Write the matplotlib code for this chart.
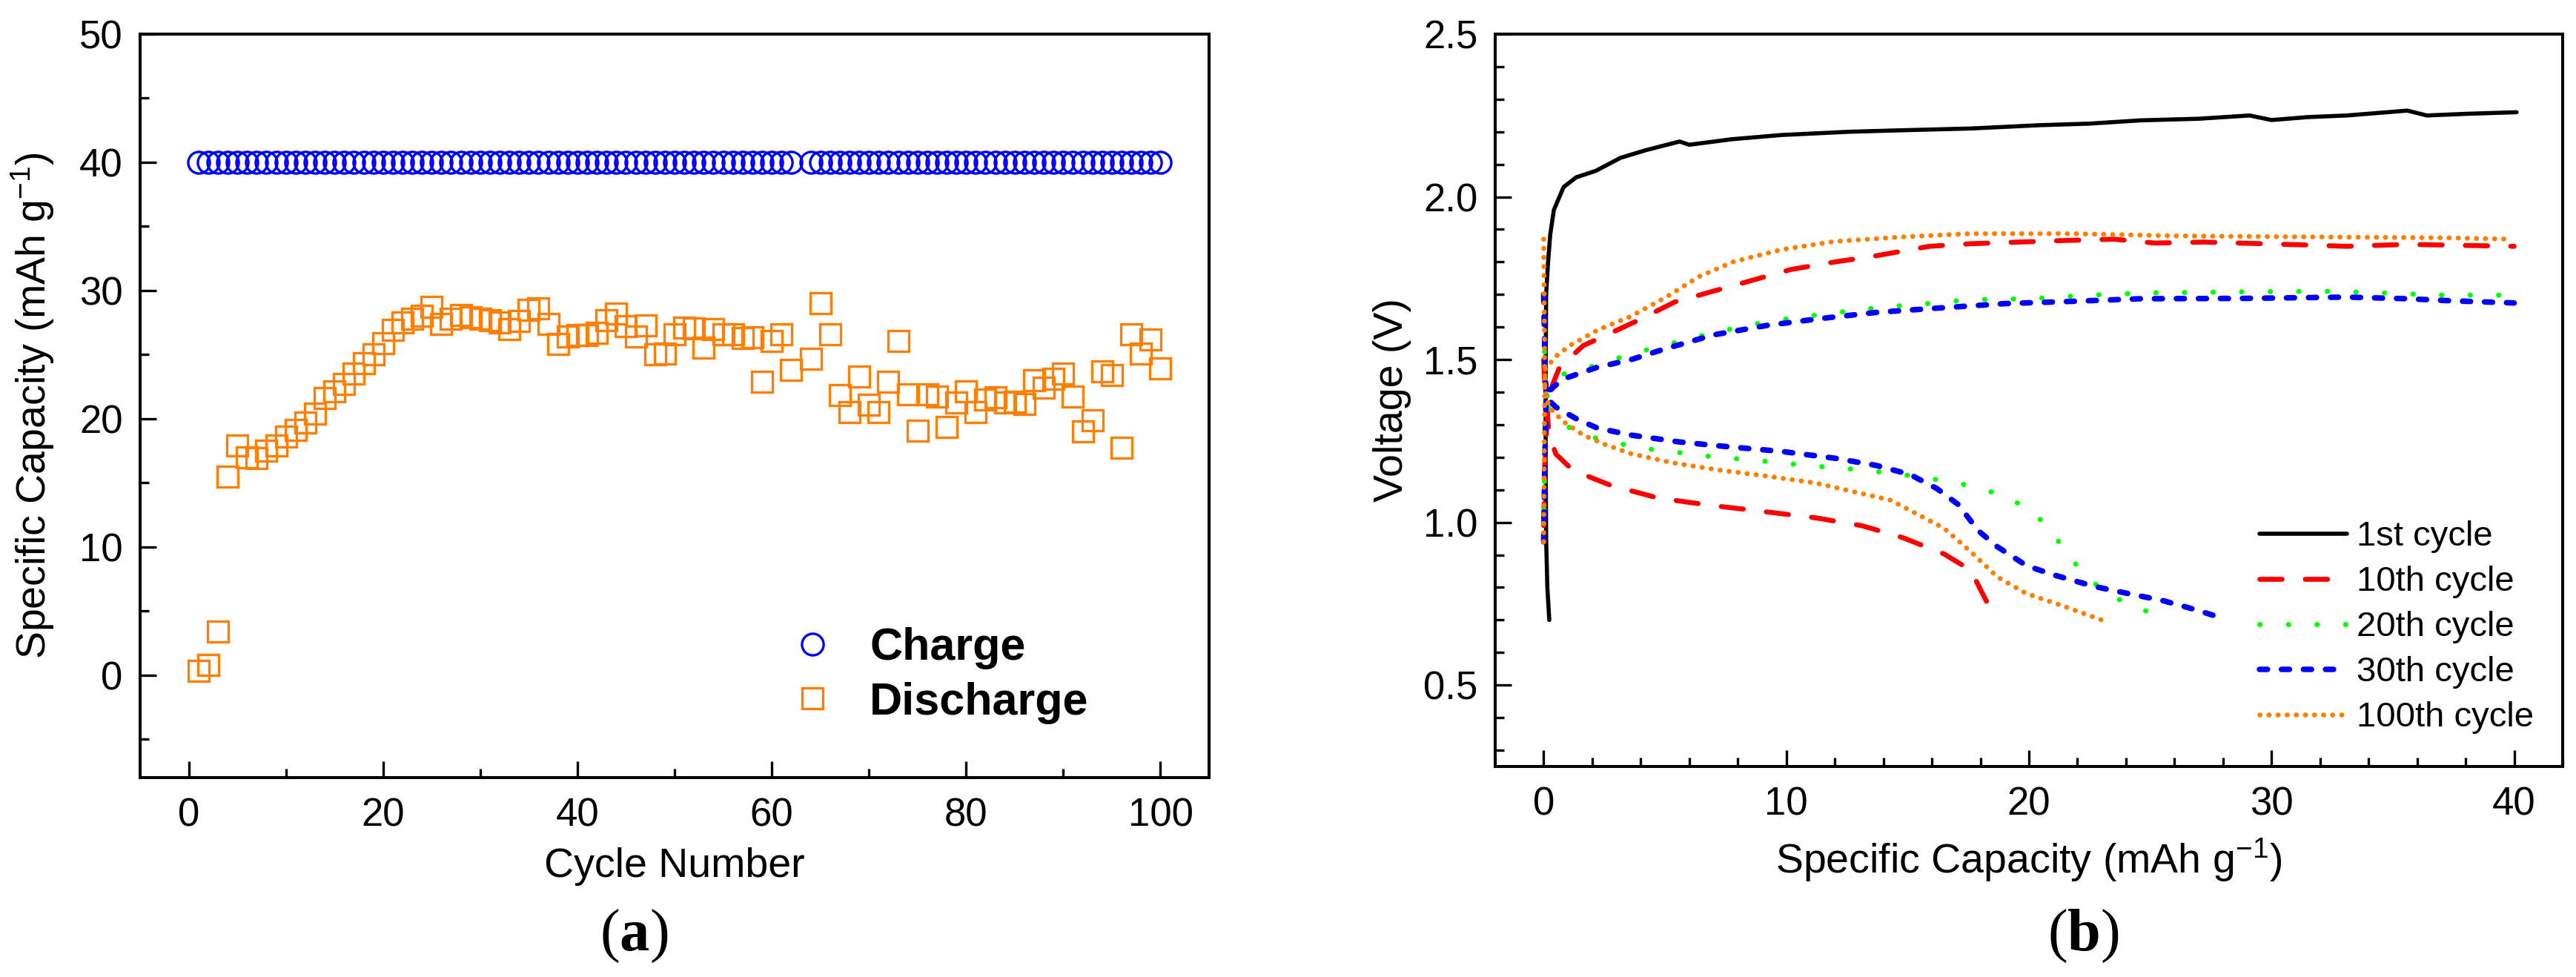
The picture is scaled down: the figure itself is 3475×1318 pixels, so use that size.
import matplotlib
matplotlib.use('Agg')
import matplotlib.pyplot as plt
from matplotlib.ticker import MultipleLocator, FormatStrFormatter

plt.rcParams['font.family'] = 'Liberation Sans'
plt.rcParams['mathtext.fontset'] = 'custom'
plt.rcParams['mathtext.rm'] = 'Liberation Sans'
plt.rcParams['mathtext.it'] = 'Liberation Sans:italic'
plt.rcParams['mathtext.bf'] = 'Liberation Serif:bold'

# ---- panel (a): capacity vs cycle number ----
cycles = [1, 2, 3, 4, 5, 6, 7, 8, 9, 10,
          11, 12, 13, 14, 15, 16, 17, 18, 19, 20,
          21, 22, 23, 24, 25, 26, 27, 28, 29, 30,
          31, 32, 33, 34, 35, 36, 37, 38, 39, 40,
          41, 42, 43, 44, 45, 46, 47, 48, 49, 50,
          51, 52, 53, 54, 55, 56, 57, 58, 59, 60,
          61, 62, 64, 65, 66, 67, 68, 69, 70,
          71, 72, 73, 74, 75, 76, 77, 78, 79, 80,
          81, 82, 83, 84, 85, 86, 87, 88, 89, 90,
          91, 92, 93, 94, 95, 96, 97, 98, 99, 100]

charge_cap = [40.0, 40.0, 40.0, 40.0, 40.0, 40.0, 40.0, 40.0, 40.0, 40.0,
              40.0, 40.0, 40.0, 40.0, 40.0, 40.0, 40.0, 40.0, 40.0, 40.0,
              40.0, 40.0, 40.0, 40.0, 40.0, 40.0, 40.0, 40.0, 40.0, 40.0,
              40.0, 40.0, 40.0, 40.0, 40.0, 40.0, 40.0, 40.0, 40.0, 40.0,
              40.0, 40.0, 40.0, 40.0, 40.0, 40.0, 40.0, 40.0, 40.0, 40.0,
              40.0, 40.0, 40.0, 40.0, 40.0, 40.0, 40.0, 40.0, 40.0, 40.0,
              40.0, 40.0, 40.0, 40.0, 40.0, 40.0, 40.0, 40.0, 40.0,
              40.0, 40.0, 40.0, 40.0, 40.0, 40.0, 40.0, 40.0, 40.0, 40.0,
              40.0, 40.0, 40.0, 40.0, 40.0, 40.0, 40.0, 40.0, 40.0, 40.0,
              40.0, 40.0, 40.0, 40.0, 40.0, 40.0, 40.0, 40.0, 40.0, 40.0]

discharge_cap = [0.3, 0.8, 3.4, 15.5, 17.9, 17.0, 16.9, 17.5, 17.9, 18.6,
                 19.1, 19.7, 20.4, 21.6, 22.1, 22.7, 23.5, 24.3, 25.0, 25.9,
                 26.9, 27.5, 27.8, 28.0, 28.7, 27.4, 27.8, 28.1, 27.9, 27.8,
                 27.7, 27.5, 27.0, 27.6, 28.5, 28.6, 27.4, 25.8, 26.4, 26.5,
                 26.5, 26.7, 27.65, 28.2, 27.2, 26.4, 27.3, 25.0, 25.1, 26.6,
                 27.1, 27.05, 25.55, 27.0, 26.6, 26.6, 26.3, 26.35, 22.9, 26.05,
                 26.6, 23.8, 24.7, 29.0, 26.6, 21.85, 20.5, 23.3, 21.1,
                 20.5, 22.9, 26.05, 21.9, 19.05, 21.9, 21.7, 19.35, 21.25, 22.1,
                 20.5, 21.5, 21.65, 21.25, 21.3, 21.15, 23.0, 22.4, 23.1, 23.5,
                 21.7, 19.0, 19.9, 23.7, 23.4, 17.75, 26.6, 25.1, 26.15, 23.9]

# ---- panel (b): voltage profiles ----
cyc1_cap = [0.23, 0.15, 0.10, 0.08, 0.08, 0.10, 0.18, 0.27, 0.42, 0.82, 1.34, 2.15,
            3.17, 4.19, 5.6, 6.0, 7.75, 9.8, 12.6, 15.0, 17.6, 20.4, 22.5, 24.6,
            27.0, 29.1, 30.0, 31.5, 33.1, 35.6, 36.4, 38.0, 40.1]
cyc1_v = [0.70, 0.80, 0.95, 1.20, 1.45, 1.70, 1.80, 1.885, 1.96, 2.03, 2.06, 2.08,
          2.12, 2.143, 2.17, 2.16, 2.177, 2.19, 2.20, 2.205, 2.21, 2.22, 2.225, 2.235,
          2.24, 2.25, 2.236, 2.245, 2.25, 2.265, 2.25, 2.255, 2.26]

cyc10_dis_cap = [0.0, 0.05, 0.23, 0.5, 1.2, 2.75, 4.7, 6.7, 9.2, 11.2, 13.1, 14.8,
                 16.5, 17.6, 18.3]
cyc10_dis_v = [1.50, 1.40, 1.268, 1.21, 1.16, 1.114, 1.075, 1.054, 1.032, 1.014, 0.99,
               0.953, 0.903, 0.853, 0.75]
cyc10_chg_cap = [0.0, 0.05, 0.15, 0.35, 0.65, 1.63, 3.88, 5.4, 7.8, 10.2, 12.0, 13.55,
                 15.9, 17.6, 21.5, 23.5, 25.2, 27.2, 31.1, 33.1, 35.6, 40.0]
cyc10_chg_v = [0.99, 1.20, 1.33, 1.42, 1.476, 1.543, 1.62, 1.677, 1.727, 1.777, 1.80,
               1.817, 1.848, 1.856, 1.866, 1.87, 1.858, 1.861, 1.853, 1.848, 1.854, 1.848]

cyc20_dis_cap = [0.0, 0.05, 0.22, 1.2, 2.47, 3.6, 4.7, 6.0, 7.1, 8.4, 9.5, 10.8, 12.0,
                 13.1, 14.3, 15.5, 16.7, 17.9, 19.0, 20.0, 20.8, 21.5, 22.2, 23.2, 24.4,
                 25.5, 25.8]
cyc20_dis_v = [1.70, 1.45, 1.34, 1.283, 1.251, 1.235, 1.221, 1.211, 1.20, 1.193, 1.185,
               1.175, 1.168, 1.161, 1.151, 1.14, 1.125, 1.108, 1.079, 1.042, 0.985, 0.913,
               0.846, 0.781, 0.739, 0.71, 0.70]
cyc20_chg_cap = [0.0, 0.05, 0.15, 0.79, 2.19, 3.3, 4.4, 5.7, 7.0, 8.1, 9.2, 10.5, 11.7,
                 12.9, 14.1, 15.4, 16.5, 17.6, 20.1, 22.5, 24.9, 28.6, 32.2, 34.5, 37.0, 40.0]
cyc20_chg_v = [0.95, 1.25, 1.40, 1.455, 1.483, 1.51, 1.533, 1.558, 1.583, 1.60, 1.616,
               1.63, 1.641, 1.652, 1.662, 1.669, 1.677, 1.684, 1.687, 1.698, 1.705, 1.708,
               1.71, 1.705, 1.698, 1.698]

cyc30_dis_cap = [0.0, 0.05, 0.1, 0.5, 1.35, 2.2, 3.6, 5.6, 7.5, 9.8, 12.0, 13.7, 15.1,
                 16.2, 17.1, 17.9, 18.7, 19.9, 21.0, 22.7, 24.1, 25.5, 26.9, 27.9]
cyc30_dis_v = [1.70, 1.50, 1.383, 1.354, 1.318, 1.29, 1.268, 1.247, 1.233, 1.218, 1.197,
               1.175, 1.147, 1.104, 1.054, 0.975, 0.925, 0.867, 0.839, 0.803, 0.781, 0.76,
               0.731, 0.707]
cyc30_chg_cap = [0.0, 0.05, 0.1, 0.79, 2.19, 3.6, 5.0, 7.0, 9.2, 11.4, 13.7, 16.2, 19.0,
                 21.8, 24.6, 28.8, 33.1, 35.6, 37.3, 40.0]
cyc30_chg_v = [0.94, 1.20, 1.397, 1.44, 1.476, 1.50, 1.533, 1.576, 1.605, 1.626, 1.645,
               1.658, 1.672, 1.679, 1.687, 1.688, 1.692, 1.687, 1.681, 1.674]

cyc100_dis_cap = [0.0, 0.03, 0.05, 0.22, 0.8, 1.63, 2.5, 3.6, 5.3, 7.2, 9.2, 11.2, 12.9,
                  14.3, 15.4, 16.5, 17.6, 18.7, 19.9, 21.3, 23.0]
cyc100_dis_v = [1.87, 1.60, 1.41, 1.354, 1.31, 1.268, 1.24, 1.211, 1.183, 1.161, 1.142,
                1.121, 1.092, 1.068, 1.025, 0.982, 0.91, 0.832, 0.781, 0.746, 0.70]
cyc100_chg_cap = [0.0, 0.03, 0.05, 0.5, 1.07, 2.2, 3.6, 5.0, 6.4, 7.8, 9.8, 12.0, 14.8,
                  17.6, 21.8, 26.0, 31.6, 37.3, 39.8]
cyc100_chg_v = [0.94, 1.30, 1.47, 1.51, 1.543, 1.59, 1.633, 1.69, 1.755, 1.80, 1.838,
                1.863, 1.877, 1.887, 1.887, 1.88, 1.877, 1.874, 1.87]

cycle_labels = ['1st cycle', '10th cycle', '20th cycle', '30th cycle', '100th cycle']

# ---- figure ----
fig = plt.figure(figsize=(34.75, 13.18), dpi=100)
ax1 = fig.add_axes([0.05439, 0.20410, 0.41496, 0.76100])
ax2 = fig.add_axes([0.58043, 0.21548, 0.41439, 0.74962])

for ax in (ax1, ax2):
    for sp in ax.spines.values():
        sp.set_linewidth(2.9)
    ax.tick_params(which='both', direction='in', width=2.4, labelsize=38,
                   top=False, right=False)
    ax.tick_params(which='major', length=15.8)
    ax.tick_params(which='minor', length=8.6)
    ax.tick_params(axis='y', which='both', pad=17)
    ax.tick_params(axis='x', which='both', pad=19)

# panel (a)
ax1.plot(cycles, charge_cap, 'o', ms=21, mfc='none', mec='#0000FF', mew=2.4,
         label='Charge')
ax1.plot(cycles, discharge_cap, 's', ms=20, mfc='none', mec='#FF8000', mew=2.4,
         label='Discharge')
ax1.set_xlim(-5, 105)
ax1.set_ylim(-8, 50)
ax1.xaxis.set_major_locator(MultipleLocator(20))
ax1.xaxis.set_minor_locator(MultipleLocator(10))
ax1.yaxis.set_major_locator(MultipleLocator(10))
ax1.yaxis.set_minor_locator(MultipleLocator(5))
ax1.set_xlabel('Cycle Number', fontsize=40)
ax1.set_ylabel('Specific Capacity (mAh g$^{-1}$)', fontsize=40)
ax1.xaxis.label.set_va('baseline')
ax1.xaxis.set_label_coords(0.5, -0.1336)
ax1.yaxis.label.set_va('baseline')
ax1.yaxis.set_label_coords(-0.0881, 0.5)
ax1.legend(loc='center left', bbox_to_anchor=(0.608, 0.137), frameon=False,
           prop={'family': 'Liberation Sans', 'weight': 'bold', 'size': 44},
           handlelength=1.0, handletextpad=0.76, labelspacing=0.27,
           borderpad=0, borderaxespad=0, numpoints=1)

# panel (b)
line_kw = dict(dash_capstyle='round', solid_capstyle='round')
ax2.plot(cyc1_cap, cyc1_v, color='black', lw=4.0, ls='-', label=cycle_labels[0],
         **line_kw)
ax2.plot(cyc10_dis_cap, cyc10_dis_v, color='#FF0000', lw=4.8, dashes=(4.5, 4.7),
         **line_kw)
ax2.plot(cyc10_chg_cap, cyc10_chg_v, color='#FF0000', lw=4.8, dashes=(4.5, 4.7),
         label=cycle_labels[1], **line_kw)
ax2.plot(cyc20_dis_cap, cyc20_dis_v, color='#00FF00', lw=5.0, dashes=(0.05, 5.5),
         **line_kw)
ax2.plot(cyc20_chg_cap, cyc20_chg_v, color='#00FF00', lw=5.0, dashes=(0.05, 5.5),
         label=cycle_labels[2], **line_kw)
ax2.plot(cyc30_dis_cap, cyc30_dis_v, color='#0000FF', lw=5.4, dashes=(1.44, 2.52),
         **line_kw)
ax2.plot(cyc30_chg_cap, cyc30_chg_v, color='#0000FF', lw=5.4, dashes=(1.44, 2.52),
         label=cycle_labels[3], **line_kw)
ax2.plot(cyc100_dis_cap, cyc100_dis_v, color='#FF8000', lw=4.8, dashes=(0.05, 1.79),
         **line_kw)
ax2.plot(cyc100_chg_cap, cyc100_chg_v, color='#FF8000', lw=4.8, dashes=(0.05, 1.79),
         label=cycle_labels[4], **line_kw)
ax2.set_xlim(-2, 42)
ax2.set_ylim(0.25, 2.5)
ax2.xaxis.set_major_locator(MultipleLocator(10))
ax2.xaxis.set_minor_locator(MultipleLocator(2))
ax2.yaxis.set_major_locator(MultipleLocator(0.5))
ax2.yaxis.set_minor_locator(MultipleLocator(0.1))
ax2.yaxis.set_major_formatter(FormatStrFormatter('%.1f'))
ax2.set_xlabel('Specific Capacity (mAh g$^{-1}$)', fontsize=40)
ax2.set_ylabel('Voltage (V)', fontsize=40)
ax2.xaxis.label.set_va('baseline')
ax2.xaxis.set_label_coords(0.5, -0.1457)
ax2.yaxis.label.set_va('baseline')
ax2.yaxis.set_label_coords(-0.0868, 0.5)
ax2.legend(loc='center left', bbox_to_anchor=(0.716, 0.19), frameon=False,
           fontsize=34, handlelength=2.5, handletextpad=0.27, labelspacing=0.36,
           borderpad=0, borderaxespad=0)

fig.text(855 / 3475, 1 - 1282 / 1318, r'($\mathbf{a}$)', family='Liberation Serif',
         fontsize=58, ha='center', va='baseline')
fig.text(2810 / 3475, 1 - 1282 / 1318, r'($\mathbf{b}$)', family='Liberation Serif',
         fontsize=58, ha='center', va='baseline')

fig.savefig('out.png', dpi=100)
